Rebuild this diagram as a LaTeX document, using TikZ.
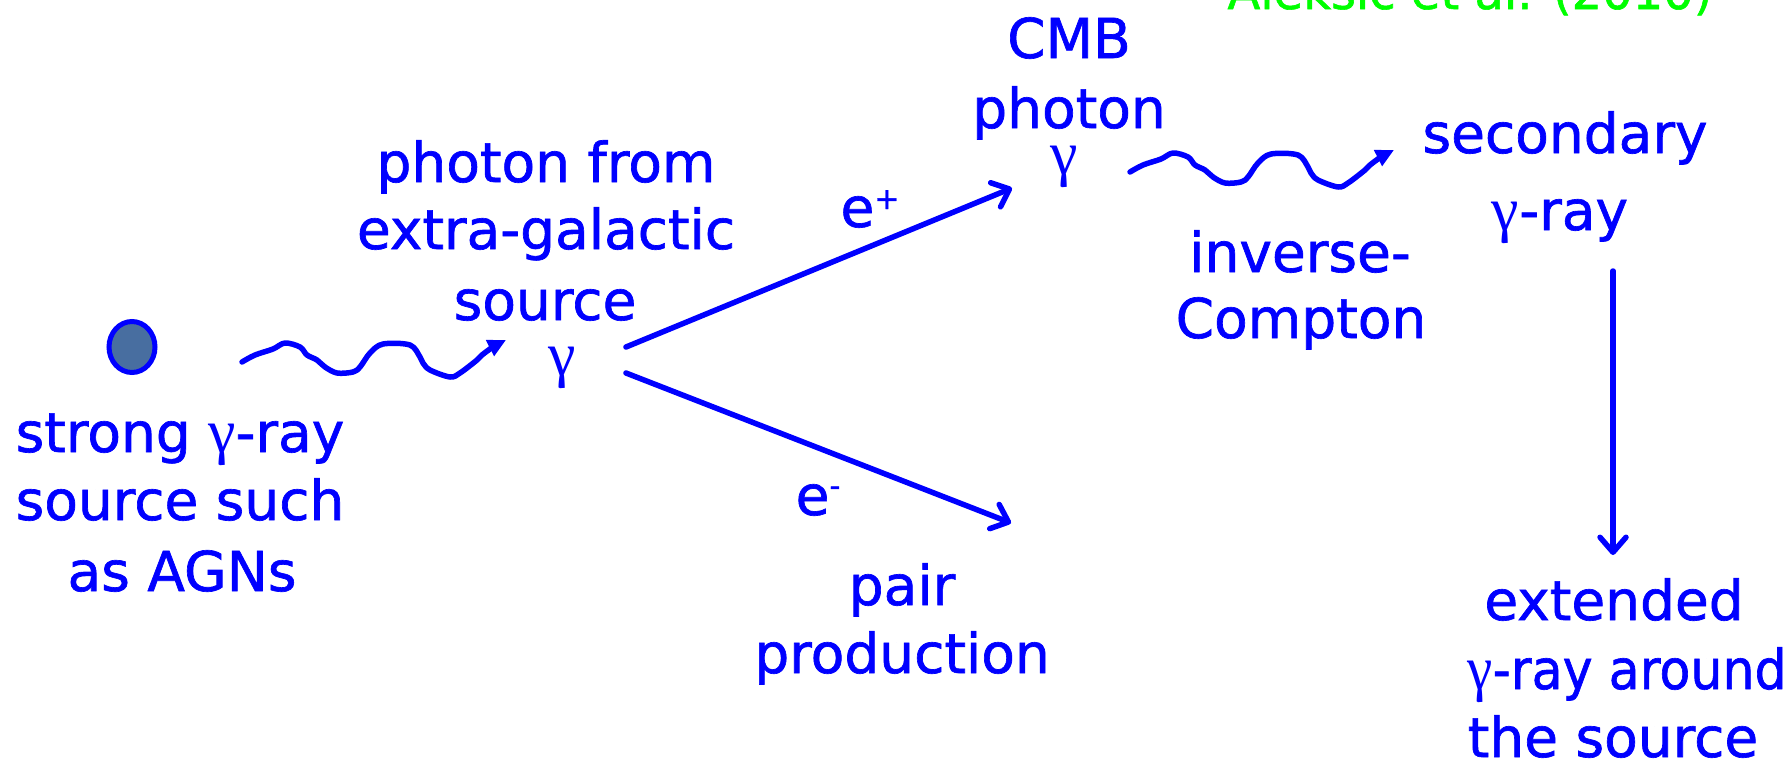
\documentclass[tikz,border=0pt]{standalone}
\usepackage{fontspec}
\setmainfont{DejaVu Sans}[FakeBold=1.2]
\newfontfamily\gfont{Liberation Serif}
\newcommand\gam{{\fontsize{62}{66}\selectfont\gfont γ}}
\usetikzlibrary{arrows.meta,shapes.geometric}
\definecolor{agnfill}{RGB}{72,110,160}
\definecolor{refgreen}{RGB}{0,255,0}
\tikzset{
  lbl/.style={text=blue, font=\fontsize{55}{66}\selectfont, inner sep=0pt, anchor=base},
  glbl/.style={text=blue, font=\fontsize{62}{66}\selectfont\gfont, inner sep=0pt, anchor=base},
  conn/.style={draw=blue, line width=5.5pt, line cap=round, -{Straight Barb[length=15pt,width=26pt,line cap=round,line join=round]}},
  wave/.style={draw=blue, line width=5.5pt, line cap=round, line join=round, -{Triangle[length=18pt,width=17pt]}},
  wavepic/.pic={\draw[wave] plot[smooth,tension=0.55] coordinates {(0,0) (13,-7) (31,-13) (43,-19) (58,-15) (65,-7) (75,-2) (83,5) (95,11) (111,10) (118,5) (128,-9) (141,-18) (168,-17) (178,-5) (181,1) (188,8) (208,15) (218,11) (235,-2) (240,-7) (251,-15) (264,-22)};}
}
\begin{document}
\begin{tikzpicture}[x=1pt,y=-1pt]
\useasboundingbox (0,0) rectangle (1787,764);

% source
\node[ellipse, draw=blue, line width=5pt, fill=agnfill, inner sep=0pt, minimum width=46pt, minimum height=51pt] (agn) at (132,347) {};
\node[lbl] (s1) at (180,452) {strong \gam-ray};
\node[lbl] (s2) at (180,520) {source such};
\node[lbl] (s3) at (182,591) {as AGNs};

% photon from extragalactic source
\node[lbl] (p1) at (546,182) {photon from};
\node[lbl] (p2) at (546,249) {extra-galactic};
\node[lbl] (p3) at (545,320) {source};
\node[glbl] (pg) at (562,375) {γ};

% CMB photon
\node[lbl] (c1) at (1069,58) {CMB};
\node[lbl] (c2) at (1069,128) {photon};
\node[glbl] (cg) at (1064,174) {γ};

% secondary gamma
\node[lbl] (d1) at (1565,153) {secondary};
\node[lbl] (d2) at (1560,230) {\gam-ray};

% inverse Compton
\node[lbl] (i1) at (1300,272) {inverse-};
\node[lbl] (i2) at (1301,338) {Compton};

% pair production
\node[lbl] (q1) at (902,605) {pair};
\node[lbl] (q2) at (902,673) {production};

% extended
\node[lbl] (x1) at (1614,620) {extended};
\node[lbl] (x2) at (1627,689) {\scalebox{0.92}[1]{\gam-ray around}};
\node[lbl] (x3) at (1613,757) {the source};

% e+ e-
\node[lbl] (ep) at (870,227) {e\raisebox{18pt}{\fontsize{30}{30}\selectfont +}};
\node[lbl] (em) at (818,515) {e\raisebox{19pt}{\fontsize{30}{30}\selectfont -}};

% reference
\node[text=refgreen, font=\fontsize{48}{54}\selectfont, inner sep=0pt, anchor=base] (ref) at (1470,9) {Aleksic et al. (2010)};

% wavy photons
\pic (w1) at (242,362) {wavepic};
\pic (w2) at (1130,172) {wavepic};

% arrows
\coordinate (eps) at (626,347);
\coordinate (epe) at (1012,188);
\coordinate (ems) at (626,373);
\coordinate (eme) at (1011,523);
\coordinate (vs) at (1613,271);
\coordinate (ve) at (1613,555);
\draw[conn] (eps) -- (epe);
\draw[conn] (ems) -- (eme);
\draw[conn] (vs) -- (ve);
\end{tikzpicture}
\end{document}
